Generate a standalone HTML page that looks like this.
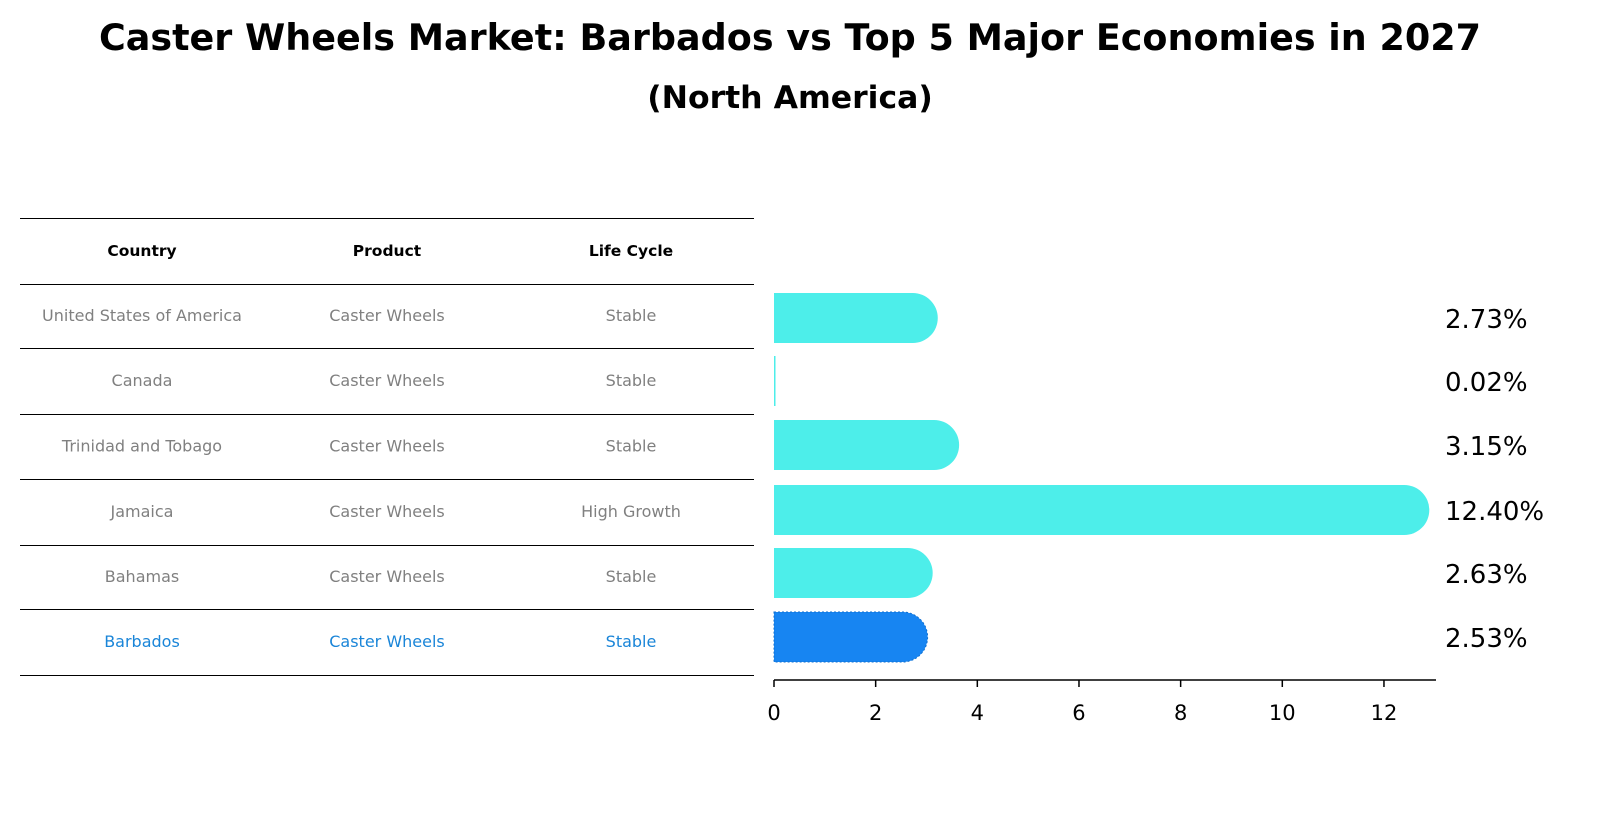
<!DOCTYPE html>
<html><head><meta charset="utf-8"><style>
body{margin:0;background:#fff;font-family:"Liberation Sans","DejaVu Sans",sans-serif;}
</style></head><body>
<svg width="1604" height="823" xmlns="http://www.w3.org/2000/svg" font-family="DejaVu Sans, Liberation Sans, sans-serif">
<text x="790" y="50" text-anchor="middle" font-size="36.5" font-weight="bold">Caster Wheels Market: Barbados vs Top 5 Major Economies in 2027</text>
<text x="790" y="108" text-anchor="middle" font-size="31.5" font-weight="bold">(North America)</text>
<g id="table"></g>
<g id="bars"></g>
</svg>
<script>
const countries=["United States of America","Canada","Trinidad and Tobago","Jamaica","Bahamas","Barbados"];
const products=["Caster Wheels","Caster Wheels","Caster Wheels","Caster Wheels","Caster Wheels","Caster Wheels"];
const lifeCycles=["Stable","Stable","Stable","High Growth","Stable","Stable"];
const values=[2.73,0.02,3.15,12.40,2.63,2.53];
const ticks=[0,2,4,6,8,10,12];
const NS="http://www.w3.org/2000/svg";
function mk(t,a,p){const e=document.createElementNS(NS,t);for(const k in a)e.setAttribute(k,a[k]);p.appendChild(e);return e;}
const tb=document.getElementById('table');
const lineYs=[218,284,348,414,479,545,609,675];
lineYs.forEach(y=>{const l=mk('line',{x1:20,x2:754,y1:y+0.5,y2:y+0.5,stroke:'#000','stroke-width':1},tb);

});
const cx=[142,387,631];
["Country","Product","Life Cycle"].forEach((h,i)=>{const t=mk('text',{x:cx[i],y:256,'text-anchor':'middle','font-size':15.5,'font-weight':'bold'},tb);t.textContent=h;

});
countries.forEach((c,r)=>{const y=(lineYs[r+1]+lineYs[r+2])/2+5;const col=r===5?'#1a85d8':'#808080';
[c,products[r],lifeCycles[r]].forEach((v,i)=>{const t=mk('text',{x:cx[i],y:y,'text-anchor':'middle','font-size':16,fill:col},tb);t.textContent=v;

});});
const g=document.getElementById('bars');
const x0=774,ppu=50.83;const X=v=>x0+v*ppu;
const centers=[318,381,445,510,573,637];const bh=50;
values.forEach((v,i)=>{const w=Math.max(X(v)-x0,1.5);const y=centers[i]-bh/2;const col=i===5?'#1785f2':'#4deeea';
let p;
if(w<10){p=mk('rect',{x:x0,y:y,width:w,height:bh,fill:col},g);}
else{const rad=25;const d=`M${x0},${y} H${x0+w} A${rad},${rad} 0 0 1 ${x0+w},${y+bh} H${x0} Z`;p=mk('path',{d:d,fill:col},g);}
if(i===5){p.setAttribute('stroke','#0f6fd0');p.setAttribute('stroke-dasharray','2,2');}


const t=mk('text',{x:1445,y:centers[i]+10,'font-size':26},g);t.textContent=v.toFixed(2)+'%';

});
const ax=mk('line',{x1:774,x2:1436,y1:680,y2:680,stroke:'#000','stroke-width':1.5},g);


ticks.forEach(v=>{const tk=mk('line',{x1:X(v),x2:X(v),y1:680,y2:687,stroke:'#000','stroke-width':1.5},g);


const t=mk('text',{x:X(v),y:720,'text-anchor':'middle','font-size':21},g);t.textContent=v;

});
</script>
</body></html>
